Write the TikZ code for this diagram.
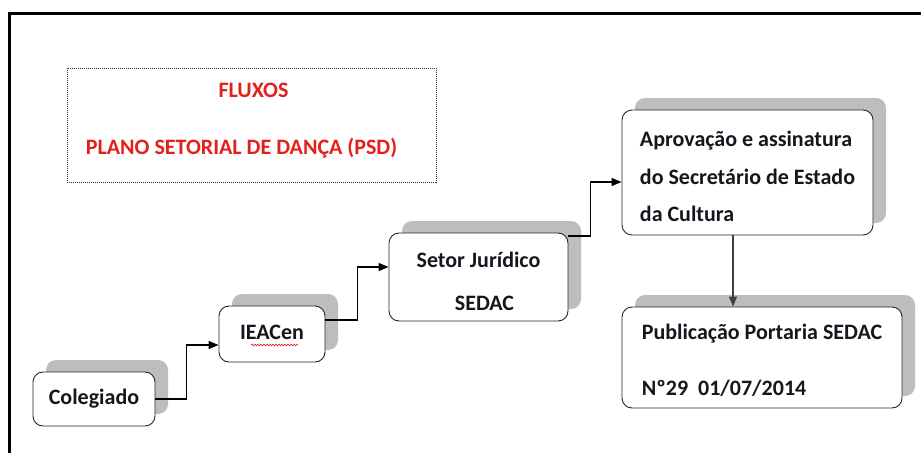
\documentclass[tikz,border=0pt]{standalone}
\usepackage{fontspec}
\setmainfont{Carlito}
\usetikzlibrary{arrows.meta,shadows,calc,decorations.pathmorphing}
\definecolor{shd}{HTML}{BDBDBD}
\definecolor{ink}{HTML}{16161F}
\definecolor{titlered}{HTML}{E3201B}
\tikzset{
  box/.style={draw=black!85, line width=0.9pt, rounded corners=10pt, fill=white,
    inner sep=0pt, text=ink, font=\bfseries\fontsize{22}{40}\selectfont,
    drop shadow={shadow xshift=13pt, shadow yshift=12pt, fill=shd, opacity=1}},
  conn/.style={draw=black, line width=1.3pt, -{Triangle[length=10pt,width=8pt]}},
  ttl/.style={text=titlered, font=\bfseries\fontsize{22}{24}\selectfont, inner sep=0pt},
}
\begin{document}
\begin{tikzpicture}[x=1pt,y=-1pt]
\useasboundingbox (0,0) rectangle (921,453);
\fill[white] (0,0) rectangle (921,453);
% frame
\draw[line width=3pt, black] (9,453) -- (9,13) -- (921,13);
% title box
\node[draw=black!80, line width=1pt, dash pattern=on 1pt off 1pt, minimum width=369pt, minimum height=114pt, inner sep=0pt] (title) at (251.5,125) {};
\node[ttl] (fluxos) at (253.5,90) {FLUXOS};
\node[ttl] (plano) at (241.5,148) {PLANO SETORIAL DE DANÇA (PSD)};
% boxes
\node[box, minimum width=122pt, minimum height=54pt] (col) at (94,399) {\raisebox{3pt}{Colegiado}};
\node[box, minimum width=106pt, minimum height=56pt] (iea) at (272,334) {\raisebox{4pt}{IEACen}};
\node[box, minimum width=179pt, minimum height=88pt, align=center, font=\bfseries\fontsize{22}{43}\selectfont] (set) at (478.5,277) {\rule{0pt}{24pt}Setor Jurídico\\\hspace{12pt}SEDAC};
\node[box, minimum width=251pt, minimum height=125pt, align=left, font=\bfseries\fontsize{22}{37.5}\selectfont] (apr) at (747.5,172.5) {\rule{0pt}{24pt}Aprovação e assinatura\\do Secretário de Estado\\da Cultura};
\node[box, minimum width=280pt, minimum height=101pt, align=left, font=\bfseries\fontsize{22}{56}\selectfont] (pub) at (762,357.5) {\rule{0pt}{21pt}Publicação Portaria SEDAC\\Nº29\ \ 01/07/2014};
% spell-check underline
\draw[red!85!black, line width=0.5pt, decorate, decoration={snake, segment length=3pt, amplitude=0.9pt}]
  ($(iea.center)+(-21,11)$) -- ($(iea.center)+(26,11)$);
% connectors
\draw[conn] (col.east) -- ++(31,0) |- ([yshift=-11pt]iea.west);
\draw[conn] ([yshift=14pt]iea.east) -- ++(32,0) |- ([yshift=10pt]set.west);
\draw[conn] ([yshift=41pt]set.east) -- ++(22,0) |- ([yshift=-9.5pt]apr.west);
\draw[conn, draw=black!75] ([xshift=-14.5pt]apr.south) -- ([xshift=-14.5pt]apr.south |- pub.north);
\end{tikzpicture}
\end{document}
